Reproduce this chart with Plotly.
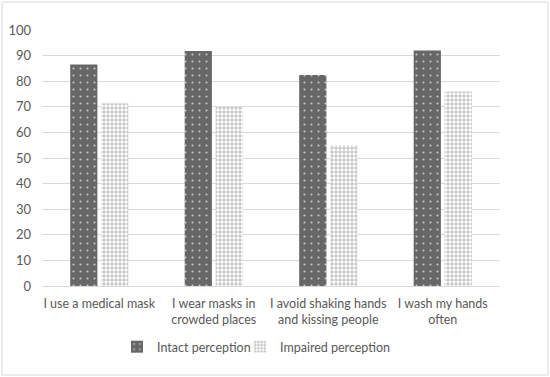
import plotly.graph_objects as go

categories = ["I use a medical mask", "I wear masks in<br>crowded places",
              "I avoid shaking hands<br>and kissing people", "I wash my hands<br>often"]
intact = [86.5, 91.8, 82.4, 92.0]
impaired = [71.4, 70.0, 55.1, 76.0]
y_ticks = list(range(0, 101, 10))

fig = go.Figure()
fig.add_trace(go.Bar(
    x=categories, y=intact, name="Intact perception", legend="legend",
    marker=dict(color="#676767", line=dict(width=0),
                pattern=dict(shape=".", fgcolor="#c8c8c8", bgcolor="#676767",
                             size=7, solidity=0.07, fillmode="replace")),
))
fig.add_trace(go.Bar(
    x=categories, y=impaired, name="Impaired perception", legend="legend2",
    marker=dict(color="#ffffff", line=dict(width=0),
                pattern=dict(shape="+", fgcolor="#8a8a8a", bgcolor="#ffffff",
                             size=4, solidity=0.25, fillmode="replace")),
))

L, R, T, B = 42, 50, 30, 91
W, H = 550, 377
pw, ph = W - L - R, H - T - B

leg_common = dict(orientation="h", y=-0.18, yanchor="top", xanchor="left",
                  bgcolor="rgba(0,0,0,0)", font=dict(size=12.5, color="#595959"),
                  itemwidth=30)

fig.update_layout(
    width=W, height=H,
    margin=dict(l=L, r=R, t=T, b=B, autoexpand=False),
    paper_bgcolor="white", plot_bgcolor="white",
    barmode="group", bargap=0.46, bargroupgap=0.12,
    font=dict(family="Lato", size=12.5, color="#595959"),
    showlegend=True,
    legend=dict(x=(117 - L) / pw, **leg_common),
    legend2=dict(x=(240 - L) / pw, **leg_common),
    xaxis=dict(showgrid=False, showline=False, ticks="", tickfont=dict(size=12.5),
               tickangle=0, automargin=False, ticklabelstandoff=8),
    yaxis=dict(range=[0, 100], tickvals=y_ticks, showgrid=True, gridcolor="#d9d9d9",
               gridwidth=1, zeroline=True, zerolinecolor="#d9d9d9", zerolinewidth=1,
               ticks="", tickfont=dict(size=13), ticklabelstandoff=10, automargin=False),
    shapes=[dict(type="rect", xref="paper", yref="paper",
                 x0=(2 - L) / pw, x1=(548 - L) / pw,
                 y0=-(375 - (H - B)) / ph,
                 y1=((H - B) - 2) / ph,
                 line=dict(color="#d9d9d9", width=1), layer="below")],
)

fig.write_html("out.html", config={"displayModeBar": False},
               post_script="document.body.style.margin='0';")
